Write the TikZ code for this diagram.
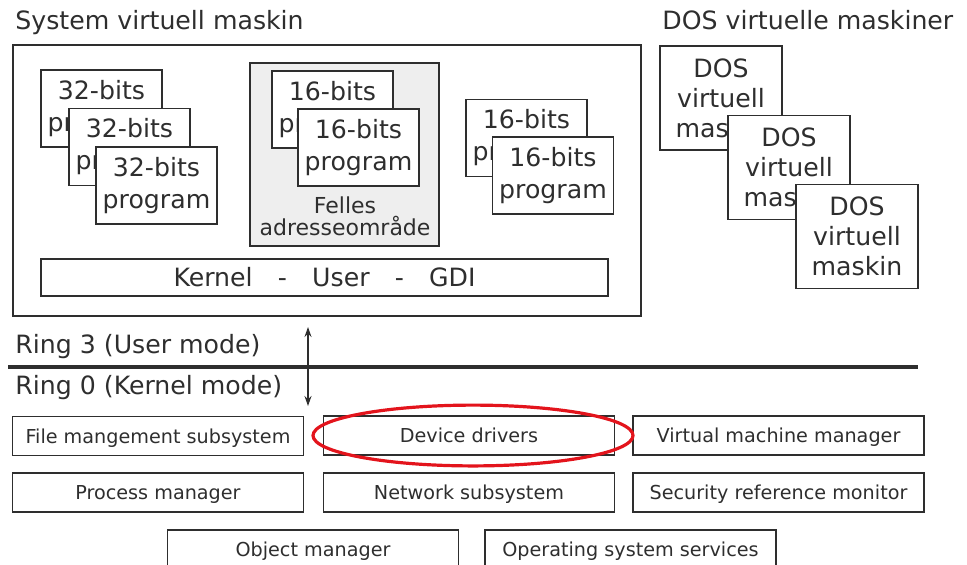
\documentclass[tikz,border=0pt]{standalone}
\usepackage{fontspec}
\setmainfont{DejaVu Sans}
\usepackage{tikz}
\usetikzlibrary{arrows.meta,positioning}
\definecolor{inkgray}{HTML}{2E2E2E}
\definecolor{areagray}{HTML}{EEEEEE}
\definecolor{markred}{HTML}{E3141C}

\tikzset{
  progbox/.style={draw=inkgray,fill=white,line width=0.8pt,minimum width=60.5pt,minimum height=38.5pt,inner sep=0pt,align=center,font=\fontsize{12.6}{16}\selectfont},
  dosbox/.style={progbox,minimum width=61pt,minimum height=52pt,font=\fontsize{12.6}{15}\selectfont},
  modbox/.style={draw=inkgray,line width=0.9pt,minimum width=145.5pt,minimum height=19.5pt,inner sep=0pt,text height=7pt,text depth=0pt,font=\fontsize{9.6}{11}\selectfont},
  heading/.style={anchor=base west,inner sep=0pt,font=\fontsize{12.6}{15}\selectfont}
}

\begin{document}
\begin{tikzpicture}[x=0.5pt,y=-0.5pt,text=inkgray]
    \useasboundingbox (0,0) rectangle (967,564);
    \clip (0,0) rectangle (967,564);
    % System virtual machine at left
    \node[heading] (systitle) at (15,29) {System virtuell maskin};
    \node[draw=inkgray,line width=0.8pt,minimum width=314pt,minimum height=135.5pt] (sysvm) at (327,180.5) {};
    \foreach \i/\x/\y in {1/101.5/108.5, 2/129.5/147, 3/156.5/185.5}
        \node[progbox] (w\i) at (\x,\y) {32-bits\\program};
    \node[draw=inkgray,fill=areagray,line width=0.8pt,minimum width=94.5pt,minimum height=91.5pt] (shared) at (344.5,154.5) {};
    \node[progbox] (s1) at (332.5,109.5) {16-bits\\program};
    \node[progbox] (s2) at (358.5,147.5) {16-bits\\program};
    \node[align=center,inner sep=0pt,font=\fontsize{11}{11}\selectfont] (felles) at (345,216) {Felles\\adresseområde};
    \node[progbox] (a1) at (526.5,138) {16-bits\\program};
    \node[progbox] (a2) at (553,175.5) {16-bits\\program};
    \node[progbox,minimum width=283.5pt,minimum height=18.5pt] (kug) at (324.5,277.5) {Kernel\quad-\quad User\quad-\quad GDI};
    % DOS virtual machines at right
    \node[heading] (dostitle) at (662,29) {DOS virtuelle maskiner};
    \foreach \i/\x/\y in {1/721/98, 2/789/167.5, 3/857/236.5}
        \node[dosbox] (d\i) at (\x,\y) {DOS\\virtuell\\maskin};
    % Ring boundary
    \node[heading] (ring3) at (15,353) {Ring 3 (User mode)};
    \node[heading] (ring0) at (15,394) {Ring 0 (Kernel mode)};
    \coordinate (bl) at (8,367);
    \coordinate (br) at (918,367);
    \draw[inkgray,line width=1.8pt] (bl) -- (br);
    \coordinate (up) at (308,327);
    \coordinate (dn) at (308,406);
    \draw[inkgray,line width=0.6pt,{Stealth[length=5pt,width=3.5pt]}-{Stealth[length=5pt,width=3.5pt]}] (up) -- (dn);
    % Kernel mode components
    \node[modbox] (fms) at (158,436) {File mangement subsystem};
    \node[modbox] (dev) at (469,435.5) {Device drivers};
    \node[modbox] (vmm) at (778.5,435.5) {Virtual machine manager};
    \node[modbox] (pm) at (158,492.5) {Process manager};
    \node[modbox] (net) at (469,492.5) {Network subsystem};
    \node[modbox] (srm) at (778.5,492.5) {Security reference monitor};
    \node[modbox] (om) at (313,549.5) {Object manager};
    \node[modbox] (oss) at (630.5,549.5) {Operating system services};
    \draw[markred,line width=1.6pt] ([xshift=2pt]dev.center) ellipse [x radius=80pt, y radius=15.2pt];
\end{tikzpicture}
\end{document}
